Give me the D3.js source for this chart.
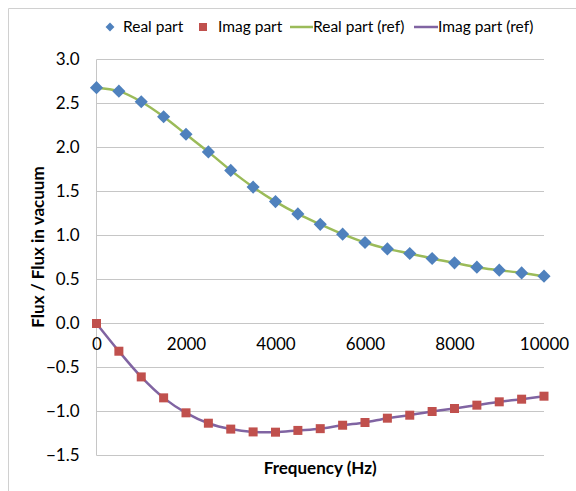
<!DOCTYPE html>
<html>
<head>
<meta charset="utf-8">
<script src="https://cdn.jsdelivr.net/npm/d3@7"></script>
<style>
  body { margin: 0; background: #fff; }
  text { font-family: Lato, "Open Sans", sans-serif; fill: #000; }
</style>
</head>
<body>
<div id="chart"></div>
<script>
// frequencies (Hz)
var freqs = [0, 500, 1000, 1500, 2000, 2500, 3000, 3500, 4000, 4500, 5000,
             5500, 6000, 6500, 7000, 7500, 8000, 8500, 9000, 9500, 10000];
var realPart = [2.68, 2.64, 2.52, 2.35, 2.15, 1.95, 1.74, 1.55, 1.385, 1.245, 1.127,
                1.015, 0.92, 0.848, 0.795, 0.739, 0.689, 0.64, 0.606, 0.575, 0.538];
var imagPart = [0, -0.315, -0.607, -0.845, -1.015, -1.133, -1.2, -1.232, -1.235, -1.215, -1.195,
                -1.156, -1.125, -1.076, -1.042, -1.0, -0.966, -0.928, -0.89, -0.86, -0.826];
var realRef = realPart.slice();
var imagRef = imagPart.slice();
var xTicks = [0, 2000, 4000, 6000, 8000, 10000];
var yTicks = [-1.5, -1.0, -0.5, 0.0, 0.5, 1.0, 1.5, 2.0, 2.5, 3.0];

var width = 576, height = 491;
var padding = { top: 59.5, right: 32, bottom: 35.5, left: 96.5 };

var svg = d3.select('#chart').append('svg')
  .attr('width', width).attr('height', height);

// chart area border (only top/left visible)
svg.append('line').attr('x1', 8.5).attr('x2', width).attr('y1', 8.5).attr('y2', 8.5)
  .attr('stroke', '#d0d0d0');
svg.append('line').attr('x1', 8.5).attr('x2', 8.5).attr('y1', 8.5).attr('y2', height)
  .attr('stroke', '#d0d0d0');

var xScale = d3.scaleLinear().domain([0, 10000]).range([padding.left, width - padding.right]);
var yScale = d3.scaleLinear().domain([-1.5, 3.0]).range([height - padding.bottom, padding.top]);

// horizontal gridlines
svg.append('g').selectAll('line').data(yTicks).enter().append('line')
  .attr('x1', xScale(0)).attr('x2', xScale(10000))
  .attr('y1', function(d){ return yScale(d); })
  .attr('y2', function(d){ return yScale(d); })
  .attr('stroke', '#c6c6c6').attr('stroke-width', 1);

// vertical axis line
svg.append('line').attr('x1', xScale(0)).attr('x2', xScale(0))
  .attr('y1', yScale(3.0)).attr('y2', yScale(-1.5))
  .attr('stroke', '#c6c6c6');

// y axis labels
var yAxis = d3.axisLeft(yScale).tickValues(yTicks).tickFormat(d3.format('.1f')).tickSize(0).tickPadding(17);
var gy = svg.append('g').attr('transform', 'translate(' + xScale(0) + ',0)').call(yAxis);
gy.select('.domain').remove();
gy.selectAll('text').style('font-size', '17px').style('font-family', 'Lato, sans-serif').attr('fill', '#000');

// x axis labels sit under the zero line
var xAxis = d3.axisBottom(xScale).tickValues(xTicks).tickFormat(d3.format('d')).tickSize(0).tickPadding(14);
var gx = svg.append('g').attr('transform', 'translate(0,' + yScale(0) + ')').call(xAxis);
gx.select('.domain').remove();
gx.selectAll('text').style('font-size', '17px').style('font-family', 'Lato, sans-serif').attr('fill', '#000');

// reference curves
var line = d3.line()
  .x(function(d, i){ return xScale(freqs[i]); })
  .y(function(d){ return yScale(d); })
  .curve(d3.curveCatmullRom.alpha(0.5));

svg.append('path').attr('d', line(realRef)).attr('fill', 'none')
  .attr('stroke', '#9bbb59').attr('stroke-width', 2.5);
svg.append('path').attr('d', line(imagRef)).attr('fill', 'none')
  .attr('stroke', '#8064a2').attr('stroke-width', 2.5);

// markers
var diamond = d3.symbol().type(d3.symbolDiamond2).size(110);
svg.append('g').selectAll('path').data(realPart).enter().append('path')
  .attr('d', diamond)
  .attr('transform', function(d, i){ return 'translate(' + xScale(freqs[i]) + ',' + yScale(d) + ')'; })
  .attr('fill', '#4f81bd');

svg.append('g').selectAll('rect').data(imagPart).enter().append('rect')
  .attr('x', function(d, i){ return xScale(freqs[i]) - 4.5; })
  .attr('y', function(d){ return yScale(d) - 4.5; })
  .attr('width', 9).attr('height', 9)
  .attr('fill', '#c0504d');

// axis titles
svg.append('text')
  .attr('x', (xScale(0) + xScale(10000)) / 2).attr('y', 474)
  .attr('text-anchor', 'middle')
  .style('font-size', '17px').style('font-weight', 'bold')
  .text('Frequency (Hz)');

svg.append('text')
  .attr('transform', 'translate(44,247) rotate(-90)')
  .attr('text-anchor', 'middle')
  .style('font-size', '17px').style('font-weight', 'bold')
  .text('Flux / Flux in vacuum');

// legend
var legend = svg.append('g').style('font-size', '15.5px');
legend.append('path').attr('d', d3.symbol().type(d3.symbolDiamond2).size(50))
  .attr('transform', 'translate(110,27)').attr('fill', '#4f81bd');
legend.append('text').attr('x', 123).attr('y', 32).text('Real part');
legend.append('rect').attr('x', 199).attr('y', 23).attr('width', 8).attr('height', 8).attr('fill', '#c0504d');
legend.append('text').attr('x', 218).attr('y', 32).text('Imag part');
legend.append('line').attr('x1', 290).attr('x2', 313).attr('y1', 27).attr('y2', 27)
  .attr('stroke', '#9bbb59').attr('stroke-width', 2.5);
legend.append('text').attr('x', 313).attr('y', 32).text('Real part (ref)');
legend.append('line').attr('x1', 414).attr('x2', 438).attr('y1', 27).attr('y2', 27)
  .attr('stroke', '#8064a2').attr('stroke-width', 2.5);
legend.append('text').attr('x', 438).attr('y', 32).text('Imag part (ref)');
</script>
</body>
</html>
